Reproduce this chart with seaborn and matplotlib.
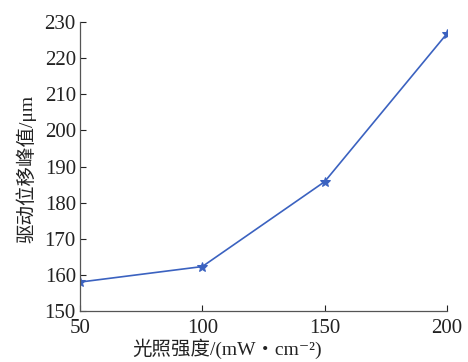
import matplotlib
matplotlib.use("Agg")
import matplotlib.pyplot as plt
import seaborn as sns
import pandas as pd

intensity = [50, 100, 150, 200]
displacement = [158.0, 162.3, 185.8, 226.8]
x_ticks = [50, 100, 150, 200]
y_ticks = [150, 160, 170, 180, 190, 200, 210, 220, 230]

sns.set_style("ticks")
plt.rcParams['font.family'] = ['Liberation Serif', 'Noto Sans CJK SC', 'DejaVu Sans']
plt.rcParams['xtick.direction'] = 'in'
plt.rcParams['ytick.direction'] = 'in'

data = pd.DataFrame({'intensity': intensity, 'displacement': displacement})

fig = plt.figure(figsize=(4.68, 3.62), dpi=100)
ax = fig.add_axes([0.171, 0.141, 0.784, 0.798])
sns.lineplot(x='intensity', y='displacement', data=data, ax=ax,
             color='#3b62c0', linewidth=1.2, marker='*', markersize=7,
             markeredgecolor='#3b62c0')

ax.set_xlim(50, 200)
ax.set_ylim(150, 230)
ax.set_xticks(x_ticks)
ax.set_yticks(y_ticks)
ax.tick_params(labelsize=15, length=4, width=0.8, colors='#222222')
ax.tick_params(axis='x', pad=6)
ax.tick_params(axis='y', pad=3)
for side in ['top', 'right']:
    ax.spines[side].set_visible(False)
for side in ['left', 'bottom']:
    ax.spines[side].set_color('#555555')
    ax.spines[side].set_linewidth(0.9)

ax.set_xlabel('光照强度/(mW・cm⁻²)', fontsize=14, color='#222222')
ax.set_ylabel('驱动位移峰值/μm', fontsize=14, color='#222222')
ax.xaxis.set_label_coords(0.40, -0.095)
ax.yaxis.set_label_coords(-0.12, 0.49)

fig.savefig('out.png', dpi=100)
